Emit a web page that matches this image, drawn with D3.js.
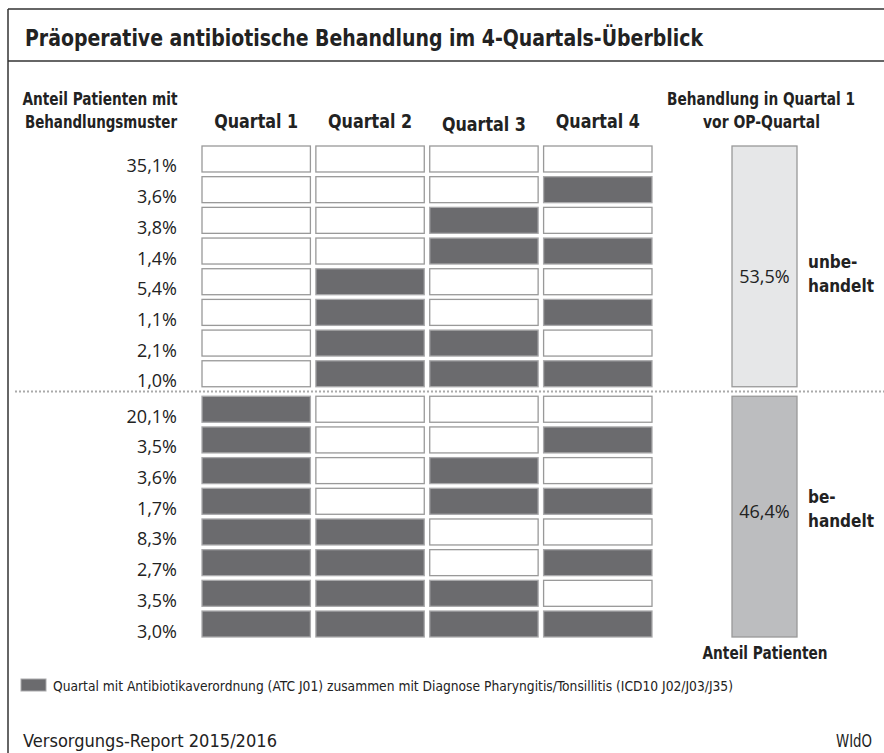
<!DOCTYPE html>
<html>
<head>
<meta charset="utf-8">
<script src="https://cdn.jsdelivr.net/npm/d3@7"></script>
<style>
  body{margin:0;background:#fff;}
  svg{display:block;}
  .cond{font-family:"Liberation Sans Narrow","DejaVu Sans Condensed","Liberation Sans",sans-serif;}
  .reg{font-family:"Open Sans","Noto Sans",sans-serif;}
</style>
</head>
<body>
<svg id="chart"></svg>
<script>
// data
let shares=[35.1,3.6,3.8,1.4,5.4,1.1,2.1,1.0,20.1,3.5,3.6,1.7,8.3,2.7,3.5,3.0];
let patterns=["0000","0001","0010","0011","0100","0101","0110","0111",
              "1000","1001","1010","1011","1100","1101","1110","1111"];
let quarters=["Quartal 1","Quartal 2","Quartal 3","Quartal 4"];
let groups=["unbehandelt","behandelt"];
let groupLabels=[["unbe-","handelt"],["be-","handelt"]];
let groupShares=[53.5,46.4];

let w=884;
let h=753;
let dark="#6b6b6e";
let textCol="#222";
let svg=d3.select('#chart').attr("width",w).attr("height",h);

let fmt=(v)=>d3.format(".1f")(v).replace(".",",")+"%";

// scales
let groupScale=d3.scaleBand().domain(groups).range([146,637]).paddingInner(0.038);
let rowScale=d3.scaleBand().domain(d3.range(8)).range([0,groupScale.bandwidth()]).paddingInner(0.153);
let xScale=d3.scaleBand().domain(quarters).range([202,652]).paddingInner(0.048);
let barScale=d3.scaleBand().domain(["bar"]).range([732,797]);

let rowTop=(i)=>groupScale(groups[Math.floor(i/8)])+rowScale(i%8);

// frame
svg.append("line").attr("x1",8).attr("x2",w).attr("y1",9).attr("y2",9).attr("stroke","#333").attr("stroke-width",1.5);
svg.append("line").attr("x1",8).attr("x2",8).attr("y1",9).attr("y2",h).attr("stroke","#333").attr("stroke-width",1.5);
svg.append("line").attr("x1",8).attr("x2",w).attr("y1",61).attr("y2",61).attr("stroke","#333").attr("stroke-width",1.5);

let addText=(txt,x,y,opts)=>{
  let t=svg.append("text").attr("x",x).attr("y",y).text(txt)
    .attr("class",opts.cls||"cond")
    .attr("font-size",opts.size||16)
    .attr("font-weight",opts.bold?"bold":"normal")
    .attr("fill",textCol)
    .attr("text-anchor",opts.anchor||"start");
  if(opts.len){ t.attr("textLength",opts.len).attr("lengthAdjust","spacingAndGlyphs"); }
  return t;
}

// title
addText("Präoperative antibiotische Behandlung im 4-Quartals-Überblick",25,46,{size:23,bold:true,len:678});

// headers
addText("Anteil Patienten mit",100,105,{size:17,bold:true,anchor:"middle",len:155});
addText("Behandlungsmuster",101,128,{size:17,bold:true,anchor:"middle",len:152});
svg.selectAll(".qhead")
  .data(quarters)
  .enter()
  .append("text")
  .attr("class","cond qhead")
  .attr("x",(d)=>xScale(d)+xScale.bandwidth()/2)
  .attr("y",(d,i)=>i==2?131:128)
  .attr("text-anchor","middle")
  .attr("font-size",19)
  .attr("font-weight","bold")
  .attr("fill",textCol)
  .attr("textLength",84)
  .attr("lengthAdjust","spacingAndGlyphs")
  .text((d)=>d);
addText("Behandlung in Quartal 1",761,105,{size:17,bold:true,anchor:"middle",len:188});
addText("vor OP-Quartal",761.5,128,{size:17,bold:true,anchor:"middle",len:117});

// cells
let cells=[];
patterns.forEach((p,i)=>{
  quarters.forEach((q,j)=>{
    cells.push({row:i,q:q,on:p[j]=="1"});
  })
})
svg.selectAll("rect.cell")
  .data(cells)
  .enter()
  .append("rect")
  .attr("class","cell")
  .attr("x",(d)=>xScale(d.q))
  .attr("y",(d)=>rowTop(d.row))
  .attr("width",xScale.bandwidth())
  .attr("height",rowScale.bandwidth())
  .attr("fill",(d)=>d.on?dark:"#fff")
  .attr("stroke",(d)=>d.on?"#a9a9ab":"#999")
  .attr("stroke-width",1.3);

// share labels
svg.selectAll("text.share")
  .data(shares)
  .enter()
  .append("text")
  .attr("class","reg share")
  .attr("x",177)
  .attr("y",(d,i)=>rowTop(i)+rowScale.bandwidth()+0.5)
  .attr("text-anchor","end")
  .attr("font-size",18)
  .attr("fill",textCol)
  .text((d)=>fmt(d));

// dotted separator
let sepY=(groupScale("unbehandelt")+groupScale.bandwidth()+groupScale("behandelt"))/2;
svg.append("line").attr("x1",15).attr("x2",w)
  .attr("y1",sepY).attr("y2",sepY)
  .attr("stroke","#aaa").attr("stroke-width",2).attr("stroke-dasharray","2,2");

// right bars
svg.selectAll("rect.group")
  .data(groups)
  .enter()
  .append("rect")
  .attr("class","group")
  .attr("x",barScale("bar"))
  .attr("y",(d)=>groupScale(d))
  .attr("width",barScale.bandwidth())
  .attr("height",groupScale.bandwidth())
  .attr("fill",(d,i)=>i==0?"#e6e7e8":"#bcbdbf")
  .attr("stroke","#999")
  .attr("stroke-width",1.3);

let midY=(g)=>groupScale(g)+groupScale.bandwidth()/2;
let labelShift=[17,1];
svg.selectAll("text.gshare")
  .data(groupShares)
  .enter()
  .append("text")
  .attr("class","reg gshare")
  .attr("x",barScale("bar")+barScale.bandwidth()/2)
  .attr("y",(d,i)=>midY(groups[i])+labelShift[i])
  .attr("text-anchor","middle")
  .attr("font-size",18)
  .attr("fill",textCol)
  .text((d)=>fmt(d));

groupLabels.forEach((lines,i)=>{
  let base=midY(groups[i])+labelShift[i];
  lines.forEach((l,k)=>{
    addText(l,808,base-15+k*24,{size:17,bold:true});
  })
})

addText("Anteil Patienten",765,659,{size:17,bold:true,anchor:"middle",len:125});

// legend
svg.append("rect").attr("x",21).attr("y",679).attr("width",25).attr("height",12)
  .attr("fill",dark).attr("stroke","#a9a9ab").attr("stroke-width",1);
addText("Quartal mit Antibiotikaverordnung (ATC J01) zusammen mit Diagnose Pharyngitis/Tonsillitis (ICD10 J02/J03/J35)",53,691,{size:14.5,len:680});

// footer
addText("Versorgungs-Report 2015/2016",23,747,{size:18,len:254});
addText("WIdO",872,747,{size:18,anchor:"end",len:36});
</script>
</body>
</html>
